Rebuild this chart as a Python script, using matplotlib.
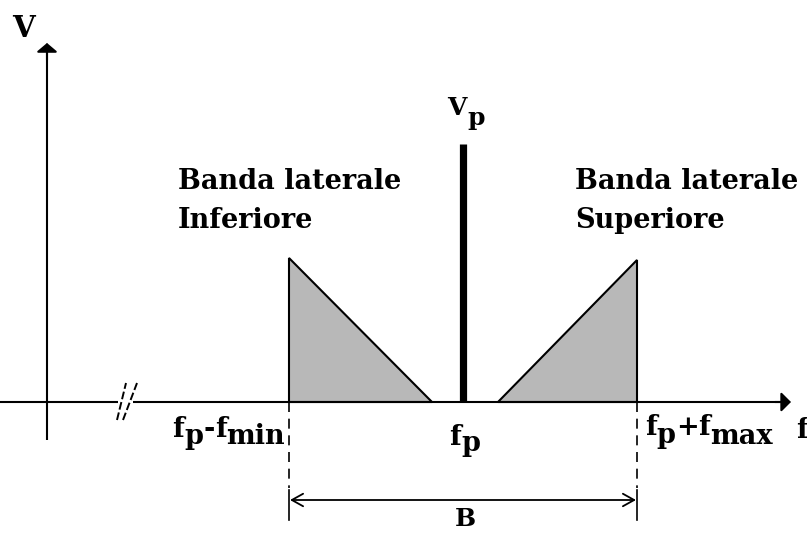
import matplotlib
matplotlib.use("Agg")
import matplotlib.pyplot as plt
from matplotlib.patches import Polygon

# ---------------- data (pixel-like units, baseline v = 0) ----------------
lsb_f = [289, 289, 432]          # lower side band triangle (frequency)
lsb_v = [0, 144, 0]              # lower side band amplitude
usb_f = [498, 637, 637]          # upper side band triangle
usb_v = [0, 0, 142]
carrier_f = 463                  # carrier frequency fp
carrier_v = 258                  # carrier amplitude Vp
band_edges = [289, 637]          # fp - fmin , fp + fmax

FS = 19.5
FAM = "DejaVu Serif"
GRAY = "#b8b8b8"

fig = plt.figure(figsize=(8.07, 5.33), dpi=100)
ax = fig.add_axes([0, 0, 1, 1])
ax.set_xlim(0, 807)
ax.set_ylim(402 - 533, 402)
ax.axis("off")


def Y(py):
    return 402 - py


# axes
ax.plot([0, 118], [0, 0], color="black", lw=1.5, solid_capstyle="butt")
ax.plot([133, 784], [0, 0], color="black", lw=1.5, solid_capstyle="butt")
ax.annotate("", xy=(791, 0), xytext=(775, 0),
            arrowprops=dict(arrowstyle="-|>,head_length=0.42,head_width=0.42",
                            color="black", lw=1.5, mutation_scale=14,
                            shrinkA=0, shrinkB=0))
ax.plot([47, 47], [Y(440), Y(52)], color="black", lw=1.5, solid_capstyle="butt")
ax.annotate("", xy=(47, Y(43)), xytext=(47, Y(60)),
            arrowprops=dict(arrowstyle="-|>,head_length=0.38,head_width=0.45",
                            color="black", lw=1.5, mutation_scale=14,
                            shrinkA=0, shrinkB=0))

# axis break marks
ax.plot([117, 126], [Y(420), Y(383)], color="black", lw=1.4, ls=(0, (4, 1.5)))
ax.plot([123, 137], [Y(420), Y(383)], color="black", lw=1.4, ls=(0, (4, 1.5)))

# side bands
ax.add_patch(Polygon(list(zip(lsb_f, lsb_v)), closed=True, facecolor=GRAY,
                     edgecolor="black", lw=1.5, joinstyle="miter"))
ax.add_patch(Polygon(list(zip(usb_f, usb_v)), closed=True, facecolor=GRAY,
                     edgecolor="black", lw=1.5, joinstyle="miter"))

# carrier
ax.plot([carrier_f, carrier_f], [0, carrier_v], color="black", lw=5.2,
        solid_capstyle="butt")

# band edges: dashed lines, ticks and B arrow
for fe in band_edges:
    ax.plot([fe, fe], [0, Y(488)], color="black", lw=1.2, ls=(0, (6, 4)))
    ax.plot([fe, fe], [Y(490), Y(520)], color="black", lw=1.2)
ax.annotate("", xy=(band_edges[0] + 1, Y(500)), xytext=(band_edges[1] - 1, Y(500)),
            arrowprops=dict(arrowstyle="<->,head_length=0.45,head_width=0.25",
                            color="black", lw=1.3, mutation_scale=18,
                            shrinkA=0, shrinkB=0))

renderer = fig.canvas.get_renderer()


def compound(x, py_base, pieces, ha="left", size=FS):
    items = []
    total = 0.0
    for s, d in pieces:
        t = ax.text(0, 0, s, fontsize=size, family=FAM, weight="bold",
                    va="baseline", ha="left", color="black")
        w = t.get_window_extent(renderer).width
        items.append((t, d, w))
        total += w
    if ha == "center":
        x0 = x - total / 2
    elif ha == "right":
        x0 = x - total
    else:
        x0 = x
    for t, d, w in items:
        t.set_position((x0, Y(py_base + d)))
        x0 += w


# labels
ax.text(24, Y(37), "V", fontsize=21, family=FAM, weight="bold", ha="center",
        va="baseline")
compound(466, 115, [("V", 0), ("p", 10)], ha="center", size=18)
for x0, lines in [(178, ["Banda laterale", "Inferiore"]),
                  (575, ["Banda laterale", "Superiore"])]:
    ax.text(x0, Y(189), lines[0], fontsize=FS, family=FAM, weight="bold",
            va="baseline", ha="left")
    ax.text(x0, Y(228), lines[1], fontsize=FS, family=FAM, weight="bold",
            va="baseline", ha="left")

compound(285, 437, [("f", 0), ("p", 7), ("-", 0), ("f", 0), ("min", 7)], ha="right")
compound(465, 445, [("f", 0), ("p", 6)], ha="center")
compound(645, 435, [("f", 0), ("p", 8), ("+", 0), ("f", 0), ("max", 9)], ha="left")
ax.text(802, Y(438), "f", fontsize=FS, family=FAM, weight="bold", ha="center",
        va="baseline")
ax.text(465, Y(526), "B", fontsize=18, family=FAM, weight="bold", ha="center",
        va="baseline")

fig.savefig("out.png", dpi=100, facecolor="white")
